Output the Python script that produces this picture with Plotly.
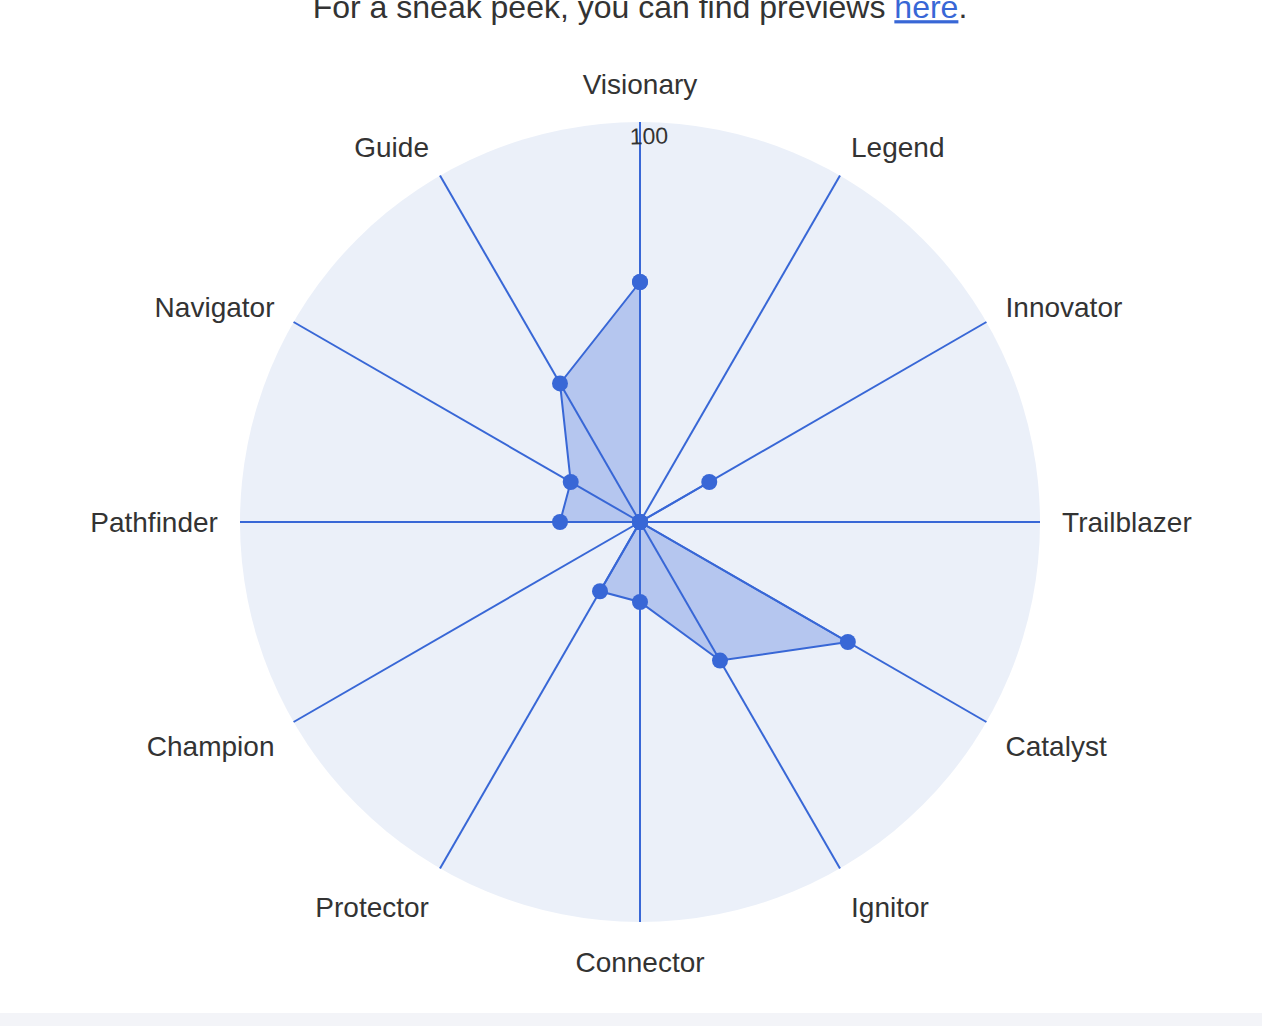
import plotly.graph_objects as go

categories = ["Visionary", "Legend", "Innovator", "Trailblazer", "Catalyst", "Ignitor",
              "Connector", "Protector", "Champion", "Pathfinder", "Navigator", "Guide"]
values = [60, 0, 20, 0, 60, 40, 20, 20, 0, 20, 20, 40]
radial_ticks = [100]
radial_ticktext = ["<br>100"]

BLUE = "#3867d6"

fig = go.Figure()
fig.add_trace(go.Scatterpolar(
    r=values + values[:1],
    theta=categories + categories[:1],
    mode="lines+markers",
    fill="toself",
    fillcolor="rgba(56,103,214,0.30)",
    line=dict(color=BLUE, width=2),
    marker=dict(color=BLUE, size=16),
    showlegend=False,
    hoverinfo="r+theta",
))

fig.update_layout(
    width=1262, height=1026,
    margin=dict(l=200, r=182, t=122, b=104),
    paper_bgcolor="white",
    font=dict(family="Liberation Sans, Arial, sans-serif", size=28, color="#333333"),
    title=dict(
        text='For a sneak peek, you can find previews <a href="https://example.com" style="color:#3867d6"><u>here</u></a>.',
        x=640 / 1262, xanchor="center",
        yref="container", y=1 - 7 / 1026, yanchor="middle",
        font=dict(size=32, color="#333333"),
    ),
    polar=dict(
        bgcolor="#ebf0f9",
        angularaxis=dict(
            direction="clockwise", rotation=90,
            categoryorder="array", categoryarray=categories,
            showline=False, gridcolor=BLUE, gridwidth=2,
            ticks="outside", ticklen=16, tickcolor="rgba(0,0,0,0)",
            tickfont=dict(size=28, color="#333333"),
        ),
        radialaxis=dict(
            range=[0, 100], tickvals=radial_ticks, ticktext=radial_ticktext,
            showgrid=False, showline=False, ticks="", angle=91.6, tickangle=90,
            tickfont=dict(size=23, color="#333333"),
        ),
    ),
    shapes=[dict(type="rect", xref="paper", yref="paper",
                 x0=-1, x1=2, y0=-104 / 800, y1=-(104 - 13) / 800,
                 fillcolor="#f3f4f8", line=dict(width=0), layer="below")],
)

fig.write_html("out.html")
